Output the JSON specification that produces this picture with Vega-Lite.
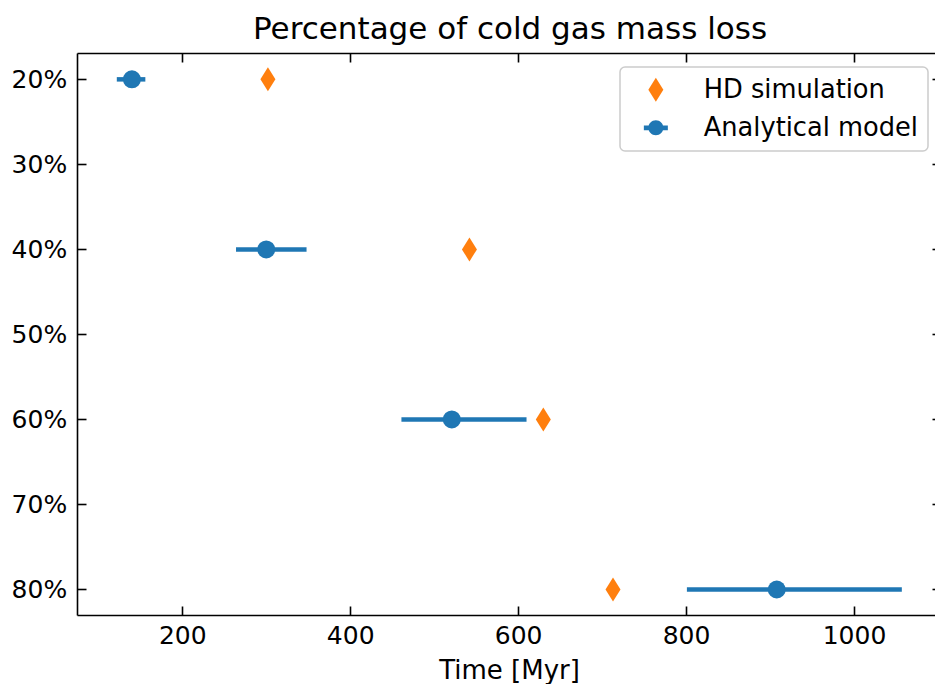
{
  "$schema": "https://vega.github.io/schema/vega-lite/v6.json",
  "width": 858,
  "height": 562,
  "autosize": {"type": "none"},
  "padding": {"left": 77, "top": 53, "right": 0, "bottom": 69},
  "title": {
    "text": "Percentage of cold gas mass loss",
    "font": "DejaVu Sans",
    "fontSize": 31,
    "fontWeight": "normal",
    "color": "black",
    "baseline": "alphabetic",
    "offset": 14,
    "dx": 4,
    "dy": 32
  },
  "config": {
    "font": "DejaVu Sans",
    "view": {"stroke": null},
    "axis": {
      "grid": false,
      "domainColor": "black",
      "domainWidth": 1.6,
      "tickColor": "black",
      "tickWidth": 1.6,
      "labelColor": "black",
      "labelFont": "DejaVu Sans",
      "labelFontSize": 25,
      "titleFont": "DejaVu Sans",
      "titleFontSize": 26,
      "titleFontWeight": "normal",
      "titleColor": "black"
    }
  },
  "data": {
    "values": [
      {"series": "HD simulation", "loss": 20, "time": 302},
      {"series": "HD simulation", "loss": 40, "time": 542},
      {"series": "HD simulation", "loss": 60, "time": 630},
      {"series": "HD simulation", "loss": 80, "time": 713},
      {"series": "Analytical model", "loss": 20, "time": 140, "low": 122, "high": 156},
      {"series": "Analytical model", "loss": 40, "time": 300, "low": 264, "high": 348},
      {"series": "Analytical model", "loss": 60, "time": 521, "low": 461, "high": 610},
      {"series": "Analytical model", "loss": 80, "time": 908, "low": 801, "high": 1057}
    ]
  },
  "layer": [
    {
      "transform": [{"filter": "datum.series === 'Analytical model'"}],
      "mark": {"type": "rule", "color": "#1f77b4", "strokeWidth": 4.5},
      "encoding": {
        "x": {
          "field": "low",
          "type": "quantitative",
          "scale": {"domain": [74.6, 1096.5], "nice": false, "zero": false},
          "axis": {
            "orient": "bottom",
            "values": [200, 400, 600, 800, 1000],
            "format": "d",
            "tickSize": -9,
            "labelPadding": 17.5,
            "title": "Time [Myr]",
            "titleX": 432,
            "titleY": 63,
            "titleAlign": "center",
            "titleBaseline": "alphabetic"
          }
        },
        "x2": {"field": "high"},
        "y": {
          "field": "loss",
          "type": "quantitative",
          "scale": {"domain": [16.9, 83.0], "reverse": true, "nice": false, "zero": false},
          "axis": {
            "orient": "left",
            "values": [20, 30, 40, 50, 60, 70, 80],
            "tickSize": -9,
            "labelPadding": 19.3,
            "labelExpr": "datum.value + '%'",
            "title": null
          }
        }
      }
    },
    {
      "transform": [{"filter": "datum.series === 'HD simulation'"}],
      "mark": {"type": "point", "filled": true, "opacity": 1, "size": 576},
      "encoding": {
        "x": {
          "field": "time",
          "type": "quantitative",
          "scale": {"domain": [74.6, 1096.5], "nice": false, "zero": false},
          "axis": {
            "orient": "top",
            "values": [200, 400, 600, 800, 1000],
            "tickSize": -9,
            "labels": false,
            "title": null
          }
        },
        "y": {
          "field": "loss",
          "type": "quantitative",
          "scale": {"domain": [16.9, 83.0], "reverse": true, "nice": false, "zero": false},
          "axis": {
            "orient": "right",
            "values": [20, 30, 40, 50, 60, 70, 80],
            "tickSize": -3,
            "labels": false,
            "domain": false,
            "title": null
          }
        },
        "shape": {
          "field": "series",
          "type": "nominal",
          "scale": {
            "domain": ["HD simulation", "Analytical model"],
            "range": [
              "M0,-1L0.625,0L0,1L-0.625,0Z",
              "M0.625,0A0.625,0.625 0 1,1 -0.625,0A0.625,0.625 0 1,1 0.625,0Z M-1,-0.19L1,-0.19L1,0.19L-1,0.19Z"
            ]
          },
          "legend": {
            "title": null,
            "orient": "none",
            "legendX": 543,
            "legendY": 14,
            "padding": 10,
            "fillColor": "rgba(255,255,255,0.8)",
            "strokeColor": "#cccccc",
            "cornerRadius": 5,
            "labelFont": "DejaVu Sans",
            "labelFontSize": 25.7,
            "labelColor": "black",
            "labelLimit": 400,
            "labelOffset": 35,
            "symbolOffset": 13,
            "symbolSize": 576,
            "symbolStrokeWidth": 0,
            "symbolOpacity": 1,
            "rowPadding": 11,
            "encode": {
              "legend": {"update": {"strokeWidth": {"value": 1.5}}}
            }
          }
        },
        "color": {
          "field": "series",
          "type": "nominal",
          "scale": {"domain": ["HD simulation", "Analytical model"], "range": ["#ff7f0e", "#1f77b4"]},
          "legend": {
            "title": null,
            "orient": "none",
            "legendX": 543,
            "legendY": 14,
            "padding": 10,
            "fillColor": "rgba(255,255,255,0.8)",
            "strokeColor": "#cccccc",
            "cornerRadius": 5,
            "labelFont": "DejaVu Sans",
            "labelFontSize": 25.7,
            "labelColor": "black",
            "labelLimit": 400,
            "labelOffset": 35,
            "symbolOffset": 13,
            "symbolSize": 576,
            "symbolStrokeWidth": 0,
            "symbolOpacity": 1,
            "rowPadding": 11,
            "encode": {
              "legend": {"update": {"strokeWidth": {"value": 1.5}}}
            }
          }
        }
      }
    },
    {
      "transform": [{"filter": "datum.series === 'Analytical model'"}],
      "mark": {"type": "point", "filled": true, "opacity": 1, "size": 324, "shape": "circle"},
      "encoding": {
        "x": {
          "field": "time",
          "type": "quantitative",
          "scale": {"domain": [74.6, 1096.5], "nice": false, "zero": false},
          "axis": null
        },
        "y": {
          "field": "loss",
          "type": "quantitative",
          "scale": {"domain": [16.9, 83.0], "reverse": true, "nice": false, "zero": false},
          "axis": null
        },
        "color": {
          "field": "series",
          "type": "nominal",
          "scale": {"domain": ["HD simulation", "Analytical model"], "range": ["#ff7f0e", "#1f77b4"]}
        }
      }
    }
  ],
  "resolve": {"axis": {"x": "independent", "y": "independent"}}
}
